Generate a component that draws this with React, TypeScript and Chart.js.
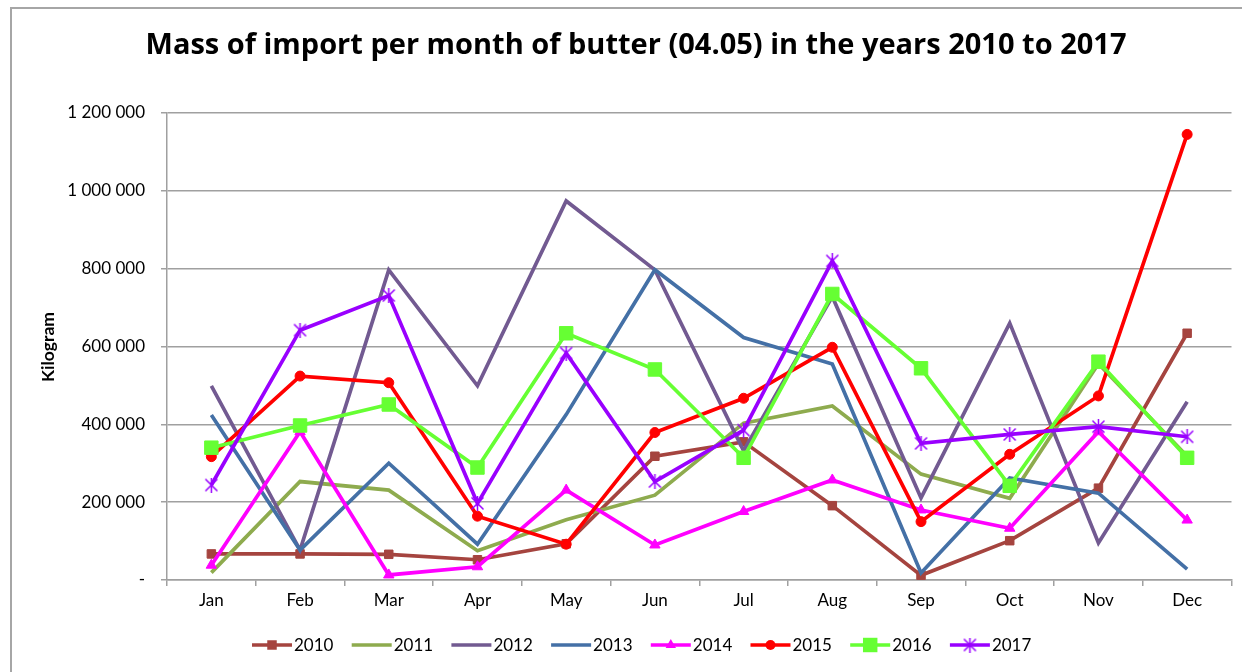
import React, { useEffect, useRef } from "react";
import { Chart, registerables } from "chart.js";

Chart.register(...registerables);

const titleText = "Mass of import per month of butter (04.05) in the years 2010 to 2017";
const yAxisTitle = "Kilogram";
const months = ["Jan", "Feb", "Mar", "Apr", "May", "Jun", "Jul", "Aug", "Sep", "Oct", "Nov", "Dec"];
const years = ["2010", "2011", "2012", "2013", "2014", "2015", "2016", "2017"];
const yTicks = [0, 200000, 400000, 600000, 800000, 1000000, 1200000];

const v2010 = [67000, 67000, 66000, 52000, 93000, 318000, 355000, 191000, 12000, 101000, 236000, 634000];
const v2011 = [19000, 253000, 231000, 75000, 155000, 218000, 403000, 447000, 272000, 210000, 556000, 318000];
const v2012 = [499000, 77000, 797000, 499000, 974000, 797000, 332000, 728000, 211000, 660000, 95000, 458000];
const v2013 = [424000, 77000, 300000, 92000, 425000, 797000, 623000, 555000, 18000, 262000, 223000, 28000];
const v2014 = [38000, 381000, 13000, 34000, 231000, 90000, 176000, 257000, 180000, 133000, 381000, 154000];
const v2015 = [317000, 524000, 507000, 164000, 92000, 379000, 467000, 598000, 150000, 323000, 473000, 1145000];
const v2016 = [340000, 397000, 451000, 289000, 634000, 541000, 314000, 735000, 544000, 242000, 561000, 314000];
const v2017 = [244000, 642000, 731000, 197000, 583000, 253000, 385000, 820000, 351000, 374000, 394000, 368000];

const seriesValues = [v2010, v2011, v2012, v2013, v2014, v2015, v2016, v2017];
const seriesColors = ["#A5443F", "#8EAB4E", "#725A91", "#4470A6", "#FF00FF", "#FF0000", "#66FF33", "#9900FF"];
const seriesMarkers = ["rect", "none", "none", "none", "triangle", "circle", "rect", "star"];
const seriesMarkerRadius = [6, 0, 0, 0, 6, 5, 9.5, 7];

const FONT = "Lato, 'Open Sans', sans-serif";
const TITLE_FONT = "'Open Sans', Lato, sans-serif";

function makeStar(color: string, size: number) {
  const c = document.createElement("canvas");
  c.width = size;
  c.height = size;
  const g = c.getContext("2d")!;
  g.strokeStyle = color;
  g.lineWidth = 1.5;
  const m = 1.5;
  g.beginPath();
  g.moveTo(m, m);
  g.lineTo(size - m, size - m);
  g.moveTo(size - m, m);
  g.lineTo(m, size - m);
  g.moveTo(size / 2, 0);
  g.lineTo(size / 2, size);
  g.stroke();
  return c;
}

function fmt(v: number) {
  if (v === 0) return "-";
  return String(v).replace(/\B(?=(\d{3})+(?!\d))/g, " ");
}

export default function App() {
  const ref = useRef<HTMLCanvasElement | null>(null);

  useEffect(() => {
    const canvas = ref.current!;
    const star = makeStar("#9900FF", 15);

    const datasets = years.map((y, i) => {
      const mk = seriesMarkers[i];
      return {
        label: y,
        data: seriesValues[i],
        borderColor: seriesColors[i],
        backgroundColor: seriesColors[i],
        borderWidth: 3.7,
        pointStyle: mk === "star" ? star : mk === "none" ? "circle" : mk,
        pointRadius: mk === "none" ? 0 : seriesMarkerRadius[i],
        pointBorderWidth: 1,
        pointBorderColor: seriesColors[i],
        pointBackgroundColor: seriesColors[i],
        tension: 0,
        order: 7 - i,
      };
    });

    const drawMarker = (ctx: CanvasRenderingContext2D, i: number, x: number, y: number) => {
      const mk = seriesMarkers[i];
      const r = seriesMarkerRadius[i];
      ctx.fillStyle = seriesColors[i];
      if (mk === "rect") {
        const s = Math.SQRT1_2 * r;
        ctx.fillRect(x - s - 0.5, y - s - 0.5, 2 * s + 1, 2 * s + 1);
      } else if (mk === "circle") {
        ctx.beginPath();
        ctx.arc(x, y, r, 0, Math.PI * 2);
        ctx.fill();
      } else if (mk === "triangle") {
        ctx.beginPath();
        ctx.moveTo(x, y - r);
        ctx.lineTo(x + r * 0.866, y + r * 0.5);
        ctx.lineTo(x - r * 0.866, y + r * 0.5);
        ctx.closePath();
        ctx.fill();
      } else if (mk === "star") {
        ctx.drawImage(star, x - 7.5, y - 7.5);
      }
    };

    const decor = {
      id: "decor",
      afterDraw(chart: any) {
        const ctx = chart.ctx as CanvasRenderingContext2D;
        ctx.save();
        ctx.fillStyle = "#000";
        ctx.font = "bold 29px " + TITLE_FONT;
        ctx.textAlign = "center";
        ctx.textBaseline = "alphabetic";
        ctx.fillText(titleText, 636, 54);

        ctx.save();
        ctx.translate(48, 347);
        ctx.rotate(-Math.PI / 2);
        ctx.font = "bold 17.5px " + FONT;
        ctx.textAlign = "center";
        ctx.textBaseline = "middle";
        ctx.fillText(yAxisTitle, 0, 0);
        ctx.restore();

        const ly = 645;
        years.forEach((y, i) => {
          const x0 = 252 + i * 99.7;
          ctx.strokeStyle = seriesColors[i];
          ctx.lineWidth = 3.7;
          ctx.beginPath();
          ctx.moveTo(x0, ly);
          ctx.lineTo(x0 + 40, ly);
          ctx.stroke();
          drawMarker(ctx, i, x0 + 20, ly);
          ctx.fillStyle = "#000";
          ctx.font = "17px " + FONT;
          ctx.textAlign = "left";
          ctx.textBaseline = "middle";
          ctx.fillText(y, x0 + 42, ly + 1);
        });
        ctx.restore();
      },
    };

    const chart = new Chart(canvas, {
      type: "line",
      data: { labels: months, datasets: datasets as any },
      options: {
        responsive: false,
        animation: false,
        layout: { padding: { top: 113, left: 0, right: 0, bottom: 52 } },
        plugins: {
          legend: { display: false },
          title: { display: false },
          tooltip: { enabled: false },
        },
        scales: {
          x: {
            offset: true,
            grid: {
              offset: true,
              drawOnChartArea: false,
              drawTicks: true,
              tickLength: 6,
              color: "#A0A0A0",
              lineWidth: 1.5,
            },
            border: { display: true, color: "#A0A0A0", width: 1.5 },
            ticks: { color: "#000", font: { family: FONT, size: 17 }, padding: 4, maxRotation: 0 },
            afterFit(scale: any) {
              scale.height = 40;
            },
          },
          y: {
            min: 0,
            max: 1200000,
            afterBuildTicks(scale: any) {
              scale.ticks = yTicks.map((v) => ({ value: v }));
            },
            grid: { color: "#A0A0A0", lineWidth: 1.5, tickLength: 6, drawTicks: true },
            border: { display: true, color: "#A0A0A0", width: 1.5 },
            ticks: {
              color: "#000",
              font: { family: FONT, size: 17 },
              padding: 16,
              callback: (v: any) => fmt(Number(v)),
            },
            afterFit(scale: any) {
              scale.width = 167;
            },
          },
        },
      },
      plugins: [decor],
    });

    return () => chart.destroy();
  }, []);

  return (
    <div
      style={{
        position: "fixed",
        left: 0,
        top: 0,
        width: 1242,
        height: 672,
        overflow: "hidden",
        background: "#fff",
      }}
    >
      <div
        style={{
          position: "absolute",
          left: 10,
          top: 7,
          width: 1400,
          height: 800,
          border: "2px solid #A6A6A6",
        }}
      />
      <canvas ref={ref} width={1242} height={672} style={{ position: "absolute", left: 0, top: 0 }} />
    </div>
  );
}
